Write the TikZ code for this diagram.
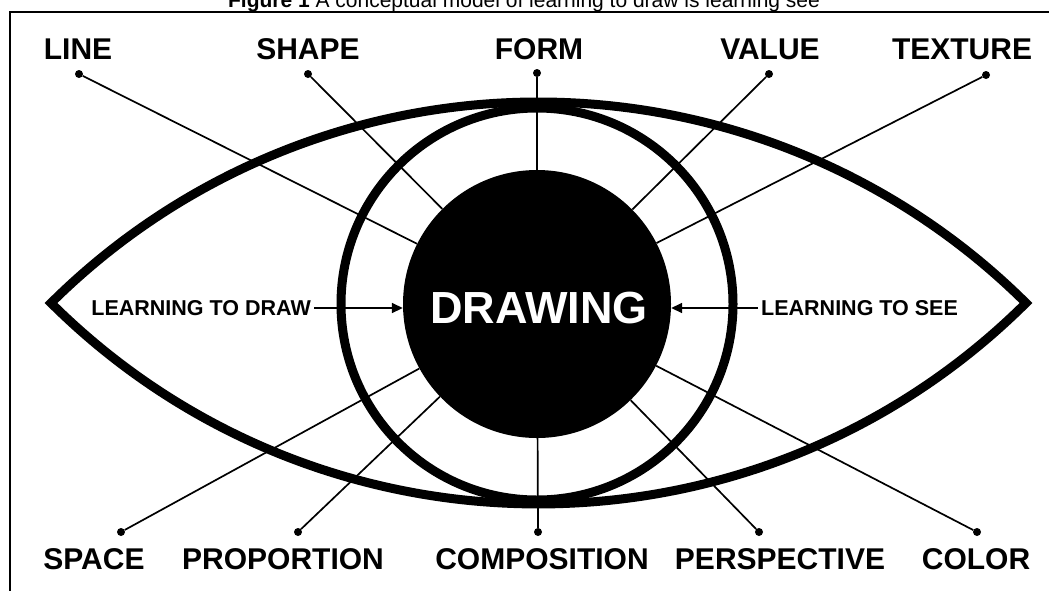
\documentclass[tikz,border=0pt]{standalone}
\usepackage{fontspec}
\setmainfont{Liberation Sans}
\usetikzlibrary{arrows.meta}
\begin{document}
\begin{tikzpicture}[x=1pt,y=-1pt,
  lbl/.style={font=\fontsize{30}{30}\selectfont\bfseries, inner sep=0pt},
  side/.style={font=\fontsize{21.5}{21.5}\selectfont\bfseries, inner xsep=3pt, inner ysep=0pt},
  dotnode/.style={circle, fill=black, inner sep=0pt, minimum size=8pt},
  spoke/.style={line width=1.7pt},
  heavy/.style={line width=9pt},
  pointer/.style={line width=1.7pt, -{Triangle[length=11pt,width=10pt]}}]
\useasboundingbox (0,0) rectangle (1049,590);
\clip (0,0) rectangle (1049,590);
\fill[white] (0,0) rectangle (1049,590);
% title (clipped at top as in the reference)
\node[anchor=base, inner sep=0pt, font=\fontsize{21}{21}\selectfont] (title) at (524,7)
  {\textbf{Figure 1} A conceptual model of learning to draw is learning see};
% frame
\draw[line width=1.5pt] (1070,12) -- (10,12) -- (10,610);
% labels
\node[lbl] (tLine) at (78,49) {LINE};
\node[lbl] (tShape) at (308,49) {SHAPE};
\node[lbl] (tForm) at (539,49) {FORM};
\node[lbl] (tValue) at (770,49) {VALUE};
\node[lbl] (tTexture) at (962,49) {TEXTURE};
\node[lbl] (tSpace) at (94,559) {SPACE};
\node[lbl] (tProportion) at (283,559) {PROPORTION};
\node[lbl] (tComposition) at (542,559) {COMPOSITION};
\node[lbl] (tPerspective) at (780,559) {PERSPECTIVE};
\node[lbl] (tColor) at (976,559) {COLOR};
% dots
\node[dotnode] (dLine) at (79,74) {};
\node[dotnode] (dShape) at (308,74) {};
\node[dotnode] (dForm) at (537,73) {};
\node[dotnode] (dValue) at (769,74) {};
\node[dotnode] (dTexture) at (986,75) {};
\node[dotnode] (dSpace) at (121,532) {};
\node[dotnode] (dProportion) at (298,532) {};
\node[dotnode] (dComposition) at (538,532) {};
\node[dotnode] (dPerspective) at (759,532) {};
\node[dotnode] (dColor) at (977,532) {};
% pupil
\node[circle, fill=black, inner sep=0pt, minimum size=268pt] (pupil) at (537,304) {};
% spokes
\foreach \d in {dLine,dShape,dForm,dValue,dTexture,dSpace,dProportion,dComposition,dPerspective,dColor}
  \draw[spoke] (\d) -- (pupil);
% eye outline
\draw[heavy, line join=miter, miter limit=10]
  (538.5,102) arc[start angle=270, end angle=314.81, radius=691.7]
  arc[start angle=45.19, end angle=134.81, radius=691.7]
  arc[start angle=225.19, end angle=270, radius=691.7] -- cycle;
% iris ring
\draw[heavy] (537,304) circle[radius=196];
% centre text
\node[text=white, inner sep=0pt, font=\fontsize{45}{45}\selectfont\bfseries] (drawing) at (539,308) {DRAWING};
% side labels and arrows
\node[side, anchor=east] (ltd) at (314,308) {LEARNING TO DRAW};
\node[side, anchor=west] (lts) at (758,308) {LEARNING TO SEE};
\draw[pointer] (ltd.east) -- (ltd.east -| pupil.west);
\draw[pointer] (lts.west) -- (lts.west -| pupil.east);
\end{tikzpicture}
\end{document}
